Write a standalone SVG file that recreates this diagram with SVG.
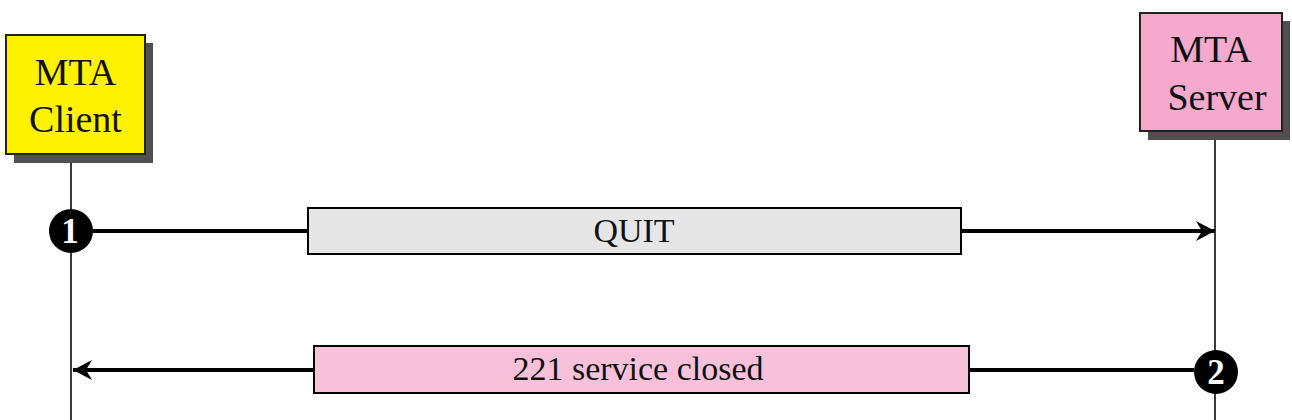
<svg xmlns="http://www.w3.org/2000/svg" width="1292" height="420" viewBox="0 0 1292 420">
<style>
.shadow{fill:#505050}
.box{stroke:#222;stroke-width:2}
.life{stroke:#3a3a3a;stroke-width:2;fill:none}
.msg{stroke:#000;stroke-width:4;fill:none}
.lbl{stroke:#000;stroke-width:2}
.t{font-family:"Liberation Serif","Times New Roman",serif;fill:#111;text-anchor:middle}
.num{font-family:"Liberation Serif","Times New Roman",serif;font-weight:bold;font-size:35px;fill:#fff;text-anchor:middle}
</style>
<defs>
<marker id="ah" markerUnits="userSpaceOnUse" markerWidth="22" markerHeight="24" viewBox="-20 -11 22 22" refX="0" refY="0" orient="auto">
<path d="M0,0 L-19,-10 L-13,0 L-19,10 Z" fill="#000"/>
</marker>
</defs>
<rect width="1292" height="420" fill="#fff"/>
<g id="lifelines">
<line class="life" x1="71" y1="154" x2="71" y2="420"/>
<line class="life" x1="1215" y1="131" x2="1215" y2="420"/>
</g>
<g id="client">
<rect class="shadow" x="14" y="43" width="139" height="120"/>
<rect class="box" x="6" y="35" width="139" height="119" fill="#fff200"/>
<text class="t" x="75.5" y="85" font-size="38">MTA</text>
<text class="t" x="75.5" y="132" font-size="38">Client</text>
</g>
<g id="server">
<rect class="shadow" x="1148" y="21" width="142" height="119"/>
<rect class="box" x="1140" y="13" width="142" height="118" fill="#f5a9cd"/>
<text class="t" x="1211" y="62" font-size="38">MTA</text>
<text class="t" x="1217" y="110" font-size="38">Server</text>
</g>
<g id="connectors">
<line class="msg" x1="93" y1="231" x2="1215" y2="231" marker-end="url(#ah)"/>
<line class="msg" x1="1194" y1="370" x2="73" y2="370" marker-end="url(#ah)"/>
</g>
<g id="msg1">
<rect class="lbl" x="308" y="208" width="653" height="46" fill="#e6e6e6"/>
<text class="t" x="634" y="242" font-size="34">QUIT</text>
</g>
<g id="msg2">
<rect class="lbl" x="314" y="346" width="655" height="47" fill="#f8c1da"/>
<text class="t" x="638" y="380" font-size="34">221 service closed</text>
</g>
<g id="step1">
<circle cx="71" cy="231" r="22" fill="#000"/>
<text class="num" x="70" y="243">1</text>
</g>
<g id="step2">
<circle cx="1216" cy="372" r="22" fill="#000"/>
<text class="num" x="1216" y="384">2</text>
</g>
</svg>
